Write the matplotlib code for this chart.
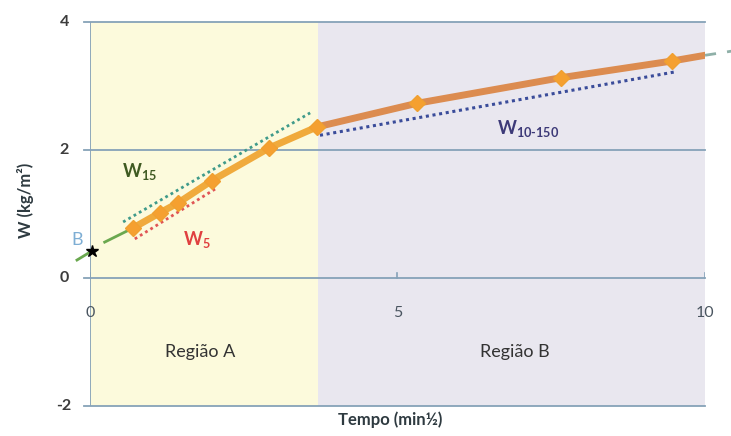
import numpy as np
import matplotlib.pyplot as plt

plt.rcParams['font.family'] = ['Lato', 'DejaVu Sans']
plt.rcParams['mathtext.fontset'] = 'custom'
plt.rcParams['mathtext.rm'] = 'Lato:bold'
plt.rcParams['mathtext.bf'] = 'Lato:bold'
plt.rcParams['mathtext.it'] = 'Lato:bold'

# dados
tempo = [0.70, 1.14, 1.43, 1.98, 2.91, 3.69, 5.32, 7.66, 9.46]
W = [0.78, 1.02, 1.17, 1.52, 2.03, 2.36, 2.73, 3.13, 3.39]

# prolongamento da tendência (fora do eixo)
trend_x = [9.46, 10.0]
trend_y = [3.39, 3.48]
ext_x = [10.0, 10.6]
ext_y = [3.48, 3.57]

# linha inicial até B
ini_x = [-0.21, 0.03]
ini_y = [0.28, 0.42]
ini2_x = [0.24, 0.70]
ini2_y = [0.56, 0.78]
B_x, B_y = 0.03, 0.42

# retas tangentes
w15_x = [0.54, 3.58]
w15_y = [0.875, 2.58]
w5_x = [0.73, 2.07]
w5_y = [0.61, 1.41]
w10_x = [3.74, 9.51]
w10_y = [2.23, 3.22]

limite_regiao = 3.71
xticks = [0, 5, 10]
yticks = [-2, 0, 2, 4]

fig = plt.figure(figsize=(7.31, 4.36), dpi=100)
ax = fig.add_axes([0.123, 0.069, 0.8415, 0.8805])
ax.set_xlim(0, 10)
ax.set_ylim(-2, 4)

# regiões
ax.axvspan(0, limite_regiao, color='#fcfadc', zorder=0, lw=0)
ax.axvspan(limite_regiao, 10, color='#e9e7ef', zorder=0, lw=0)

# grelha
gcol = '#86a2b8'
for yv in yticks:
    ax.plot([-0.1, 10], [yv, yv], color=gcol, lw=1.3, zorder=1, clip_on=False)
ax.plot([0, 0], [-2, 4], color=gcol, lw=1.3, zorder=1)

for s in ax.spines.values():
    s.set_visible(False)
ax.set_xticks([])
ax.set_yticks([])

# rótulos dos eixos
for yv in yticks:
    ax.text(-0.42, yv, str(yv), ha='center', va='center', fontsize=11.5,
            fontweight='bold', color='#3c3c3c')
for xv in xticks:
    ax.text(xv, -0.55, str(xv), ha='center', va='center', fontsize=11.5,
            color='#4a5560')
    ax.plot([xv, xv], [0, 0.07], color=gcol, lw=1.2, zorder=1)

# linhas
ax.plot(ini_x, ini_y, color='#6aa84f', lw=2, zorder=3, clip_on=False)
ax.plot(ini2_x, ini2_y, color='#6aa84f', lw=2, zorder=3)
ax.plot(w15_x, w15_y, color='#3f9a8a', lw=2, ls=(0, (1, 1.2)), zorder=3)
ax.plot(w5_x, w5_y, color='#e05555', lw=2, ls=(0, (1, 1.2)), zorder=3)
ax.plot(w10_x, w10_y, color='#3a4c9a', lw=2.2, ls=(0, (1, 1.2)), zorder=3)

ax.plot(tempo[:6], W[:6], color='#f0aa3c', lw=5, zorder=4, solid_capstyle='round')
ax.plot(tempo[5:], W[5:], color='#dc8c50', lw=5, zorder=4, solid_capstyle='round')
ax.plot(trend_x, trend_y, color='#dc8c50', lw=5, zorder=4)
ax.plot(ext_x, ext_y, color='#8fb0a8', lw=2, ls=(0, (4, 4)), zorder=4, clip_on=False)
ax.plot(tempo, W, ls='none', marker='D', ms=8, color='#f5a030', mec='#f0a030', zorder=5)

ax.plot(B_x, B_y, marker='*', ms=9, color='black', zorder=6, clip_on=False)
ax.text(-0.2, 0.6, 'B', fontsize=13, color='#7eaed4', ha='center', va='center')

ax.text(0.81, 1.66, r'W$_{15}$', fontsize=13, fontweight='bold', color='#3f5a22',
        ha='center', va='center')
ax.text(1.74, 0.6, r'W$_{5}$', fontsize=13, fontweight='bold', color='#e04040',
        ha='center', va='center')
ax.text(7.12, 2.33, r'W$_{10\text{-}150}$', fontsize=13, fontweight='bold',
        color='#3d3a78', ha='center', va='center')

ax.text(1.79, -1.16, 'Região A', fontsize=13, color='#333333', ha='center', va='center')
ax.text(6.9, -1.16, 'Região B', fontsize=13, color='#333333', ha='center', va='center')

fig.text(390 / 731, 1 - 420 / 436, 'Tempo (min½)', fontsize=12, fontweight='bold',
         color='#2e3a40', ha='center', va='center')
fig.text(25 / 731, 1 - 200 / 436, 'W (kg/m²)', fontsize=12, fontweight='bold',
         color='#2e3a40', ha='center', va='center', rotation=90)

fig.savefig('out.png', dpi=100)
